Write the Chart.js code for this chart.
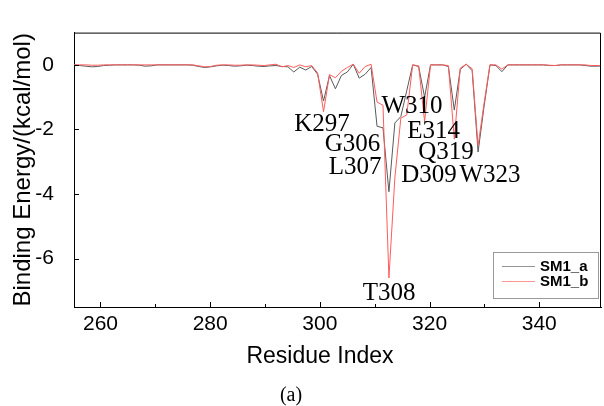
<!DOCTYPE html>
<html><head><meta charset="utf-8">
<script src="https://cdn.jsdelivr.net/npm/chart.js@4.4.0/dist/chart.umd.min.js"></script>
<style>
html,body{margin:0;padding:0;background:#fff;}
#wrap{position:relative;width:604px;height:406px;}
#caption{position:absolute;left:0;width:582px;top:384px;line-height:20px;text-align:center;font-family:"Liberation Serif","DejaVu Serif",serif;font-size:20px;color:#000;}
#xtitle{position:absolute;left:0;width:640px;top:344px;line-height:23px;text-align:center;font-family:"Liberation Sans",Arial,sans-serif;font-size:23px;color:#000;white-space:nowrap;}
</style></head><body>
<div id="wrap"><canvas id="c" width="604" height="406"></canvas><div id="xtitle">Residue Index</div><div id="caption">(a)</div></div>
<script>
// Residue numbers (as annotated in the figure)
const residues = [
 255,256,257,258,259,260,261,262,263,264,
 265,266,267,268,269,270,271,272,273,274,
 275,276,277,278,279,280,281,282,283,284,
 285,286,287,288,289,290,291,292,293,294,
 295,296,297,298,299,300,301,302,303,304,
 305,306,307,308,309,310,311,312,313,314,
 315,316,317,318,319,320,321,322,323,324,
 325,326,327,328,329,330,331,332,333,334,
 335,336,337,338,339,340,341,342,343,344];

// Binding energy (kcal/mol) per residue
const sm1a = [
 0,-0.02,-0.04,-0.06,-0.05,-0.02,-0.01,0,0,0,
 0,-0.01,-0.04,-0.03,0,0,0,0,0,0,
 -0.01,-0.05,-0.08,-0.06,-0.03,-0.01,-0.02,-0.04,-0.03,-0.01,
 -0.02,-0.04,-0.05,-0.03,-0.02,-0.05,-0.06,-0.22,-0.07,-0.16,
 -0.05,-0.29,-1.12,-0.33,-0.74,-0.33,-0.22,0.02,-0.41,-0.29,
 -0.08,-1.90,-1.95,-3.93,-1.80,-1.60,-0.80,0,-0.05,-1.00,
 0,0,0,-0.05,-1.40,-0.14,0.02,-0.18,-2.70,-1.30,
 0,-0.02,-0.21,0,0,0,0,0,0,0,
 -0.02,-0.02,0,0,0,0,-0.02,-0.04,-0.04,-0.03];

const sm1b = [
 0,0,0,-0.01,-0.01,0,0,0,0,0,
 0,0,0,0,0,0,0,0,0,0,
 0,-0.03,-0.06,-0.05,-0.01,0,0,-0.01,-0.01,0,
 0,-0.01,-0.02,0,0.02,-0.06,-0.02,-0.08,0,-0.06,
 -0.02,-0.25,-1.45,-0.30,-0.40,-0.20,-0.08,0.02,-0.26,-0.05,
 0.02,-1.15,-1.25,-6.60,-3.50,-1.65,-1.55,0,-0.03,-1.75,
 0,0,0,-0.02,-2.30,-0.10,0.02,-0.12,-2.50,-1.20,
 0,0,-0.13,0,0,0,0,0,0,0,
 -0.01,-0.02,0,0,0,0,0,-0.02,-0.02,-0.02];

const seriesNames = ['SM1_a','SM1_b'];
const xTickValues = [260,280,300,320,340];
const xMinorTicks = [270,290,310,330];
const yTickValues = [0,-2,-4,-6];

// Residue labels and their anchor (axis units / kcal/mol)
const annoText = ['K297','G306','L307','W310','E314','Q319','D309','W323','T308'];
const annoX    = [300.39,305.95,306.41,316.80,320.73,323.00,319.90,331.03,312.61];
const annoY    = [-1.85,-2.47,-3.19,-1.28,-2.07,-2.70,-3.44,-3.42,-7.07];

// In the reference the residues are drawn slightly stretched against the index axis
const axisAt297 = 300.67, axisPerResidue = 1.0838;
const xPos = residues.map(r => axisAt297 + (r - 297) * axisPerResidue);

const SANS = "'Liberation Sans', Arial, sans-serif";
const SERIF = "'Liberation Serif', 'Times New Roman', serif";

const decor = {
  id: 'decor',
  afterDatasetsDraw(chart) {
    const {ctx, chartArea: a, scales: {x, y}} = chart;
    ctx.save();
    ctx.strokeStyle = '#000';
    ctx.lineWidth = 1;
    ctx.beginPath();
    ctx.moveTo(a.left, a.top + 0.5); ctx.lineTo(a.right - 0.5, a.top + 0.5);
    ctx.lineTo(a.right - 0.5, a.bottom);
    ctx.stroke();
    // inward tick marks
    ctx.beginPath();
    xTickValues.forEach(v => { const p = Math.round(x.getPixelForValue(v)) + 0.5; ctx.moveTo(p, a.bottom); ctx.lineTo(p, a.bottom - 5); });
    xMinorTicks.forEach(v => { const p = Math.round(x.getPixelForValue(v)) + 0.5; ctx.moveTo(p, a.bottom); ctx.lineTo(p, a.bottom - 3); });
    yTickValues.forEach(v => { const p = Math.round(y.getPixelForValue(v)) + 0.5; ctx.moveTo(a.left, p); ctx.lineTo(a.left + 5, p); });
    ctx.stroke();
    // residue annotations
    ctx.fillStyle = '#000';
    ctx.font = '25px ' + SERIF;
    ctx.textAlign = 'center';
    ctx.textBaseline = 'middle';
    annoText.forEach((t, i) => ctx.fillText(t, x.getPixelForValue(annoX[i]), y.getPixelForValue(annoY[i])));
    // legend
    const bw = 105, bh = 46;
    const bx = a.right - 3 - bw, by = a.bottom - 9 - bh;
    ctx.fillStyle = '#fff';
    ctx.fillRect(bx, by, bw, bh);
    ctx.strokeStyle = '#999';
    ctx.strokeRect(Math.round(bx) + 0.5, Math.round(by) + 0.5, bw, bh);
    ctx.font = 'bold 15px ' + SANS;
    ctx.textAlign = 'left';
    chart.data.datasets.forEach((ds, i) => {
      const ly = Math.round(by + 14 + i * 15) + 0.5;
      ctx.save();
      ctx.globalAlpha = 0.65;
      ctx.strokeStyle = ds.borderColor;
      ctx.lineWidth = 1;
      ctx.beginPath(); ctx.moveTo(bx + 9, ly); ctx.lineTo(bx + 42, ly); ctx.stroke();
      ctx.restore();
      ctx.fillStyle = '#000';
      ctx.fillText(ds.label, bx + 47, ly);
    });
    ctx.restore();
  }
};

new Chart(document.getElementById('c'), {
  type: 'line',
  data: {
    datasets: [
      { label: seriesNames[0], data: xPos.map((x, i) => ({x, y: sm1a[i]})), borderColor: '#5a5a5a', borderWidth: 1, pointRadius: 0, tension: 0, order: 1 },
      { label: seriesNames[1], data: xPos.map((x, i) => ({x, y: sm1b[i]})), borderColor: '#ff5c5c', borderWidth: 1, pointRadius: 0, tension: 0, order: 0 }
    ]
  },
  options: {
    responsive: false,
    animation: false,
    devicePixelRatio: 1,
    layout: { padding: { top: 12, right: 3, left: 0, bottom: 0 } },
    plugins: { legend: { display: false }, tooltip: { enabled: false } },
    scales: {
      x: {
        type: 'linear', min: 255.17, max: 351.26,
        afterBuildTicks: s => { s.ticks = xTickValues.map(v => ({value: v})); },
        afterFit: s => { s.height = 99; },
        grid: { display: false, drawTicks: false },
        border: { display: true, color: '#000', width: 1 },
        ticks: { font: { family: SANS, size: 21 }, color: '#000', padding: 5, maxRotation: 0, autoSkip: false },
        title: { display: false }
      },
      y: {
        type: 'linear', min: -7.5, max: 1,
        afterBuildTicks: s => { s.ticks = yTickValues.map(v => ({value: v})); },
        afterFit: s => { s.width = 74; },
        grid: { display: false, drawTicks: false },
        border: { display: true, color: '#000', width: 1 },
        ticks: { font: { family: SANS, size: 21 }, color: '#000', padding: 20, autoSkip: false },
        title: { display: true, text: 'Binding Energy/(kcal/mol)', color: '#000', font: { family: SANS, size: 24 }, padding: { top: 9, bottom: 0 } }
      }
    }
  },
  plugins: [decor]
});
</script>
</body></html>
